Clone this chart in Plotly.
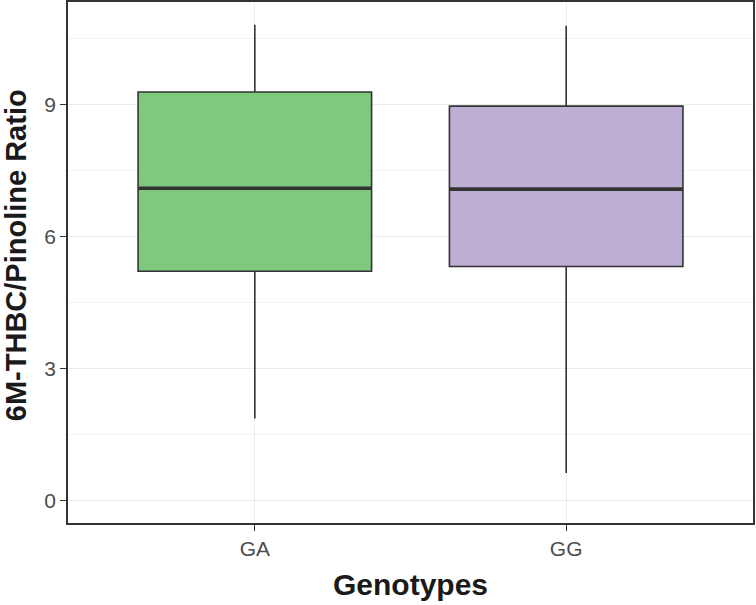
import plotly.graph_objects as go

genotypes = ["GA", "GG"]
lower_whisker = [1.86, 0.62]
q1 = [5.21, 5.32]
median = [7.10, 7.08]
q3 = [9.29, 8.97]
upper_whisker = [10.82, 10.80]
fill_colors = ["#7FC97F", "#BEAED4"]

positions = [1, 2]
box_width = 0.75
outline = "#333333"

fig = go.Figure()
for i, g in enumerate(genotypes):
    fig.add_trace(go.Box(
        x=[positions[i]], q1=[q1[i]], median=[median[i]], q3=[q3[i]],
        lowerfence=[lower_whisker[i]], upperfence=[upper_whisker[i]],
        width=box_width, fillcolor=fill_colors[i],
        line=dict(color=outline, width=1.6), whiskerwidth=0,
        boxpoints=False, name=g, showlegend=False, hoverinfo="skip",
    ))
    fig.add_trace(go.Scatter(
        x=[positions[i] - box_width / 2, positions[i] + box_width / 2],
        y=[median[i], median[i]], mode="lines",
        line=dict(color=outline, width=3.6), showlegend=False, hoverinfo="skip",
    ))

font_family = "Liberation Sans, Arial, sans-serif"
fig.update_layout(
    width=756, height=605,
    margin=dict(l=68, r=3, t=2, b=82, autoexpand=False),
    plot_bgcolor="white", paper_bgcolor="white",
    font=dict(family=font_family, color="#4D4D4D"),
    xaxis=dict(
        range=[0.4, 2.6], tickvals=positions, ticktext=genotypes, automargin=False,
        showgrid=True, gridcolor="#EBEBEB", gridwidth=1.2, zeroline=False,
        showline=True, linecolor=outline, linewidth=1.6, mirror=True,
        ticks="outside", ticklen=6, tickcolor=outline, tickwidth=1.4,
        tickfont=dict(size=21, color="#4D4D4D"),
    ),
    yaxis=dict(
        range=[-0.52, 11.34], tickvals=[0, 3, 6, 9], automargin=False,
        showgrid=True, gridcolor="#EBEBEB", gridwidth=1.2, zeroline=False,
        minor=dict(tickvals=[1.5, 4.5, 7.5, 10.5], showgrid=True, gridcolor="#F2F2F2", gridwidth=1),
        showline=True, linecolor=outline, linewidth=1.6, mirror=True,
        ticks="outside", ticklen=6, tickcolor=outline, tickwidth=1.4,
        tickfont=dict(size=21, color="#4D4D4D"),
    ),
    annotations=[
        dict(text="<b>Genotypes</b>", xref="paper", yref="paper", x=0.5, y=-0.119,
             xanchor="center", yanchor="middle", showarrow=False,
             font=dict(size=30, color="#1A1A1A", family=font_family)),
        dict(text="<b>6M-THBC/Pinoline Ratio</b>", xref="paper", yref="paper",
             x=-(68 - 16) / 685, y=0.514, xanchor="center", yanchor="middle",
             textangle=-90, showarrow=False,
             font=dict(size=29, color="#1A1A1A", family=font_family)),
    ],
)

fig.write_html(
    "out.html",
    config={"responsive": False, "displayModeBar": False},
    post_script="document.body.style.margin='0';document.body.style.overflow='hidden';",
)
